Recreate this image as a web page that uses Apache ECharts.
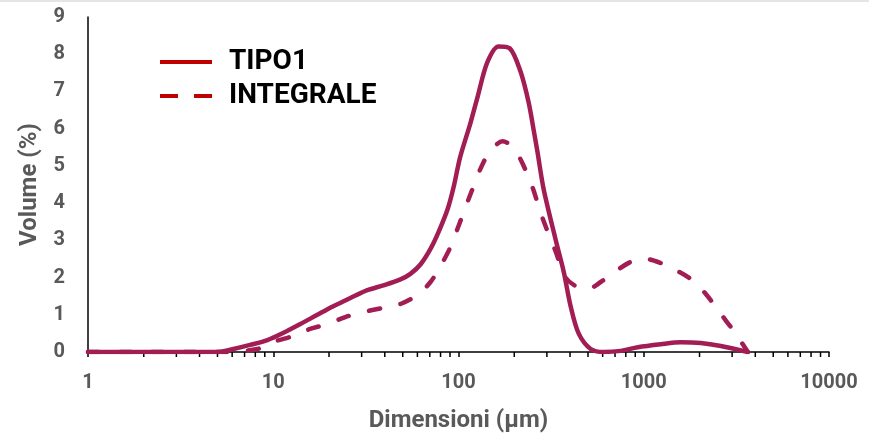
<!DOCTYPE html>
<html>
<head>
<meta charset="utf-8">
<script src="https://cdn.jsdelivr.net/npm/echarts@6/dist/echarts.min.js"></script>
<style>
html,body{margin:0;padding:0;background:#fff}
#chart{width:869px;height:438px}
</style>
</head>
<body>
<div id="chart"></div>
<script>
// dimensioni (µm) e volume (%)
var sizesTipo1 = [1, 2, 3, 4, 5.2, 6.1, 7.5, 9.3, 11.3, 14, 17.3, 21.1, 26.1, 32.2, 39.3, 48.6, 55, 62.3, 70.6, 78, 87.4, 94.4, 102, 116, 127, 143, 164.5, 189, 216, 239, 254, 267, 288, 334, 370, 403, 445, 517, 608, 751, 929, 1236, 1585, 2033, 2608, 3648];
var volTipo1 = [0, 0, 0, 0, 0.01, 0.08, 0.19, 0.32, 0.51, 0.75, 1.0, 1.23, 1.45, 1.66, 1.79, 1.95, 2.1, 2.35, 2.77, 3.22, 3.84, 4.46, 5.23, 6.15, 6.87, 7.78, 8.21, 8.16, 7.54, 6.71, 5.99, 5.37, 4.38, 3.03, 2.15, 1.23, 0.5, 0.08, 0, 0.03, 0.13, 0.21, 0.26, 0.24, 0.16, 0];

var sizesIntegrale = [1, 2, 4, 5.5, 8.2, 10, 12.8, 15.8, 19.6, 24.5, 30.3, 38.8, 48.6, 60, 70.6, 80, 90.5, 101, 119, 136.5, 154.6, 173, 201, 245, 284, 334, 379, 429, 498, 586, 706, 851, 1025, 1236, 1489, 1795, 2163, 2608, 3065, 3648];
var volIntegrale = [0, 0, 0, 0, 0.08, 0.27, 0.43, 0.62, 0.75, 0.94, 1.07, 1.18, 1.29, 1.53, 1.88, 2.31, 2.82, 3.44, 4.38, 5.10, 5.50, 5.66, 5.45, 4.56, 3.6, 2.71, 2.0, 1.77, 1.69, 1.88, 2.17, 2.42, 2.50, 2.39, 2.20, 1.96, 1.56, 1.02, 0.56, 0];

// tacche secondarie dell'asse logaritmico
var minorTicks = [2, 3, 4, 5, 6, 7, 8, 9, 20, 30, 40, 50, 60, 70, 80, 90, 200, 300, 400, 500, 600, 700, 800, 900, 2000, 3000, 4000, 5000, 6000, 7000, 8000, 9000];

function pairs(xs, ys) {
    return xs.map(function (x, i) { return [x, ys[i]]; });
}

var lineColor = '#A31D55';
var font = 'Roboto';

var myChart = echarts.init(document.getElementById('chart'));
var option = {
    animation: false,
    graphic: [{
        type: 'rect', left: 0, top: 0, silent: true,
        shape: { width: 869, height: 2 },
        style: { fill: '#e2e6e6' }
    }],
    grid: { left: 88, right: 40, top: 17, bottom: 85 },
    legend: {
        orient: 'vertical',
        left: 153,
        top: 43,
        itemWidth: 52,
        itemHeight: 14,
        itemGap: 6,
        textStyle: { fontFamily: font, fontSize: 28, fontWeight: 'bold', color: '#000', padding: [0, 0, 0, 12] },
        data: [
            { name: 'TIPO1', itemStyle: { opacity: 0 }, lineStyle: { color: '#C00000', width: 4, cap: 'butt' } },
            { name: 'INTEGRALE', itemStyle: { opacity: 0 }, lineStyle: { color: '#C00000', width: 4, type: [18, 16], cap: 'butt' } }
        ]
    },
    xAxis: {
        type: 'log',
        logBase: 10,
        min: 1,
        max: 10000,
        name: 'Dimensioni (µm)',
        nameLocation: 'middle',
        nameGap: 57,
        nameTextStyle: { fontFamily: font, fontSize: 24, fontWeight: 'bold', color: '#595959' },
        axisLine: { lineStyle: { color: '#000', width: 1.5 } },
        axisTick: { show: true, inside: false, length: 5, lineStyle: { color: '#000', width: 1.5 } },
        axisLabel: {
            fontFamily: font, fontSize: 20, fontWeight: 'bold', color: '#595959', margin: 21,
            formatter: function (v) { return String(v); }
        },
        splitLine: { show: false }
    },
    yAxis: {
        type: 'value',
        min: 0,
        max: 9,
        interval: 1,
        name: 'Volume (%)',
        nameLocation: 'middle',
        nameGap: 46,
        nameTextStyle: { fontFamily: font, fontSize: 24, fontWeight: 'bold', color: '#595959' },
        axisLine: { show: true, lineStyle: { color: '#000', width: 1.5 } },
        axisTick: { show: false },
        axisLabel: { fontFamily: font, fontSize: 20, fontWeight: 'bold', color: '#595959', margin: 23 },
        splitLine: { show: false }
    },
    series: [{
        name: 'TIPO1',
        type: 'line',
        smooth: 0.3,
        symbol: 'none',
        lineStyle: { color: lineColor, width: 4.5, cap: 'round', join: 'round' },
        itemStyle: { color: lineColor },
        data: pairs(sizesTipo1, volTipo1),
        z: 3
    }, {
        name: 'INTEGRALE',
        type: 'line',
        smooth: 0.3,
        symbol: 'none',
        lineStyle: { color: lineColor, width: 4.5, type: [11, 21], cap: 'round', join: 'round' },
        itemStyle: { color: lineColor },
        data: pairs(sizesIntegrale, volIntegrale),
        z: 2
    }, {
        name: 'ticks',
        type: 'custom',
        silent: true,
        clip: false,
        data: minorTicks.map(function (v) { return [v, 0]; }),
        renderItem: function (params, api) {
            var p = api.coord([api.value(0), 0]);
            return {
                type: 'line',
                shape: { x1: p[0], y1: p[1], x2: p[0], y2: p[1] + 5 },
                style: { stroke: '#000', lineWidth: 1.5 }
            };
        },
        z: 1
    }]
};
myChart.setOption(option);
window.addEventListener('resize', function () {
    myChart.resize();
});
</script>
</body>
</html>
